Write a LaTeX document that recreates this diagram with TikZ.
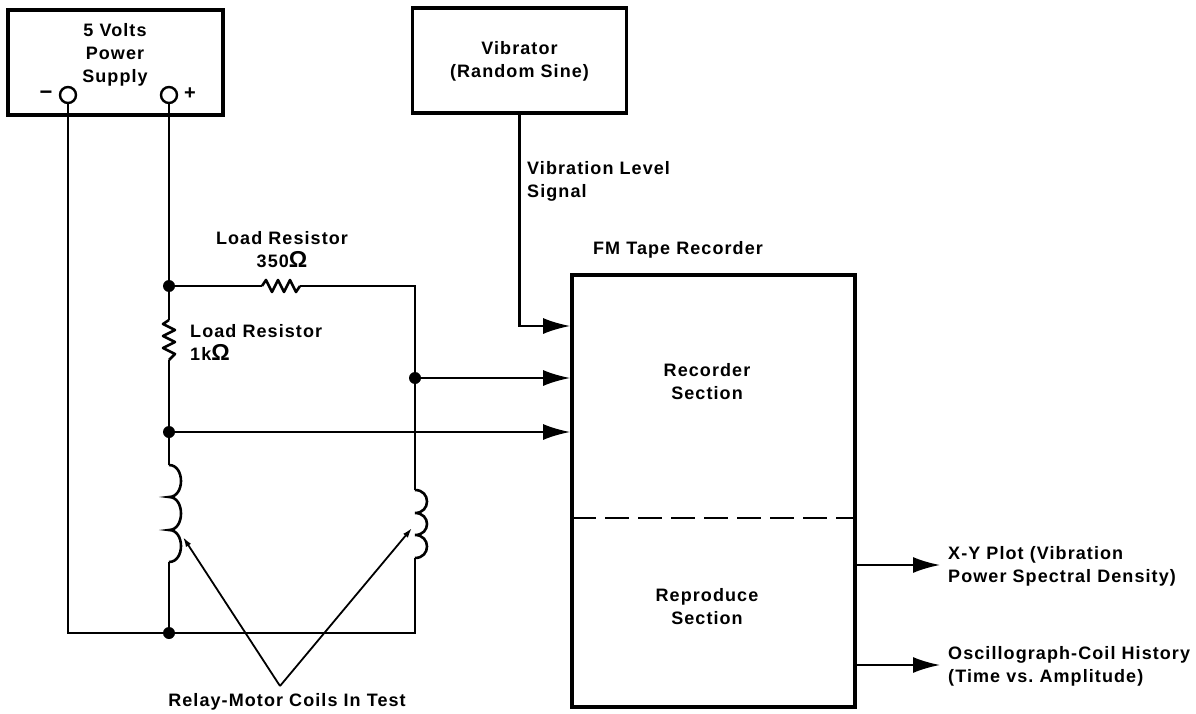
\documentclass[tikz,border=0pt]{standalone}
\usepackage{fontspec}
\setmainfont{Liberation Sans}[LetterSpace=6]
\usetikzlibrary{arrows.meta}
\newcommand{\bigohm}{{\fontsize{23}{23}\selectfont Ω}}
\begin{document}
\begin{tikzpicture}[x=1pt,y=-1pt,
  wire/.style={line width=2.2pt},
  boxstyle/.style={draw, line width=3.8pt, inner sep=0pt},
  lbl/.style={font=\fontsize{18}{23}\selectfont\bfseries, inner sep=0pt, align=center},
  lbll/.style={lbl, align=left, anchor=west},
  sig/.style={wire, -{Latex[length=27pt,width=16pt]}},
  ptr/.style={line width=1.8pt, -{Latex[length=10pt,width=6pt]}},
  dot/.style={circle, fill, inner sep=0pt, minimum size=12pt},
  term/.style={circle, draw, line width=2.4pt, inner sep=0pt, minimum size=16pt, fill=white}]
\useasboundingbox (0,0) rectangle (1196,714);

% ---------- boxes ----------
\node[boxstyle, minimum width=215pt, minimum height=105pt] (psu) at (115.5,62.5) {};
\node[lbl] (psutxt) at (115,55) {5 Volts\\Power\\Supply};
\node[boxstyle, minimum width=214pt, minimum height=105pt] (vib) at (519.5,60.5) {};
\node[lbl] (vibtxt) at (519.5,61) {Vibrator\\(Random Sine)};
\node[boxstyle, minimum width=283pt, minimum height=432pt] (fm) at (713.5,491) {};
\node[lbl] (fmtitle) at (678,250) {FM Tape Recorder};
\node[lbl] (rec) at (707,382) {Recorder\\Section};
\node[lbl] (rep) at (707,607) {Reproduce\\Section};
\coordinate (dl) at (572,518);
\coordinate (dr) at (855,518);
\draw[wire, line width=2.6pt, dash pattern=on 24pt off 9pt] (dl) -- (dr);

% ---------- power supply terminals ----------
\node[term] (tminus) at (68,95) {};
\node[term] (tplus) at (169,95) {};
\node[lbl, font=\fontsize{22}{23}\selectfont\bfseries] (minus) at (46,95) {−};
\node[lbl, font=\fontsize{20}{23}\selectfont\bfseries] (plus) at (190,94) {+};

% ---------- circuit points ----------
\coordinate (cbl) at (68,633);
\coordinate (ctr) at (415,286);
\coordinate (cbr) at (415,633);
\coordinate (r1a) at (262,286);
\coordinate (r1b) at (300,286);
\coordinate (r2a) at (169,320);
\coordinate (r2b) at (169,360);
\coordinate (c1a) at (169,465);
\coordinate (c1b) at (169,562);
\coordinate (c2a) at (415,490);
\coordinate (c2b) at (415,558);

% wires
\draw[wire] (tminus) -- (cbl) -- (cbr) -- (c2b);
\draw[wire] (tplus) -- (r2a);
\draw[wire] (r2b) -- (c1a);
\draw[wire] (c1b) -- (169,633);
\draw[wire] (169,286) -- (r1a);
\draw[wire] (r1b) -- (ctr) -- (c2a);

% 350 ohm resistor (horizontal)
\draw[wire, line width=2.6pt, line join=round] (r1a) -- (266,280) -- (272,292) -- (278,280) -- (284,292) -- (290,280) -- (296,292) -- (r1b);
% 1k resistor (vertical)
\draw[wire, line width=2.6pt, line join=round] (r2a) -- (163,324) -- (175,330) -- (163,336) -- (175,342) -- (163,348) -- (175,354) -- (r2b);

% coils
\draw[wire, line width=2.6pt] (c1a) .. controls (185,465) and (185,497) .. (169,497)
                 .. controls (185,497) and (185,530) .. (169,530)
                 .. controls (185,530) and (185,562) .. (c1b);
\draw[wire, line width=2.6pt] (c2a) .. controls (431,490) and (431,513) .. (415,513)
                 .. controls (431,513) and (431,535) .. (415,535)
                 .. controls (431,535) and (431,558) .. (c2b);

% junction dots
\node[dot] (jtop) at (169,286) {};
\node[dot] (jmid) at (169,432) {};
\node[dot] (jbot) at (169,633) {};
\node[dot] (jr) at (415,378) {};

% signal arrows into recorder
\coordinate (vbend) at (519.5,326);
\draw[sig] (vib.south) -- (vbend) -- (fm.west |- vbend);
\draw[sig] (jr) -- (fm.west |- jr);
\draw[sig] (jmid) -- (fm.west |- jmid);

% outputs
\coordinate (o1) at (940,565);
\coordinate (o2) at (940,665);
\draw[sig] (fm.east |- o1) -- (o1);
\draw[sig] (fm.east |- o2) -- (o2);
\node[lbll] (o1txt) at (948,566) {X-Y Plot (Vibration\\Power Spectral Density)};
\node[lbll] (o2txt) at (948,666) {Oscillograph-Coil History\\(Time vs.\ Amplitude)};

% labels
\node[lbl] (r1txt) at (282,250) {Load Resistor\\350\bigohm};
\node[lbll] (r2txt) at (190,342) {Load Resistor\\1k\bigohm};
\node[lbll] (vtxt) at (527,181) {Vibration Level\\Signal};
\node[lbl] (coiltxt) at (287,702) {Relay-Motor Coils In Test};
\coordinate (pfrom) at (280,686);
\coordinate (p1) at (183,537);
\coordinate (p2) at (412,528);
\draw[ptr] (pfrom) -- (p1);
\draw[ptr] (pfrom) -- (p2);
\end{tikzpicture}
\end{document}
